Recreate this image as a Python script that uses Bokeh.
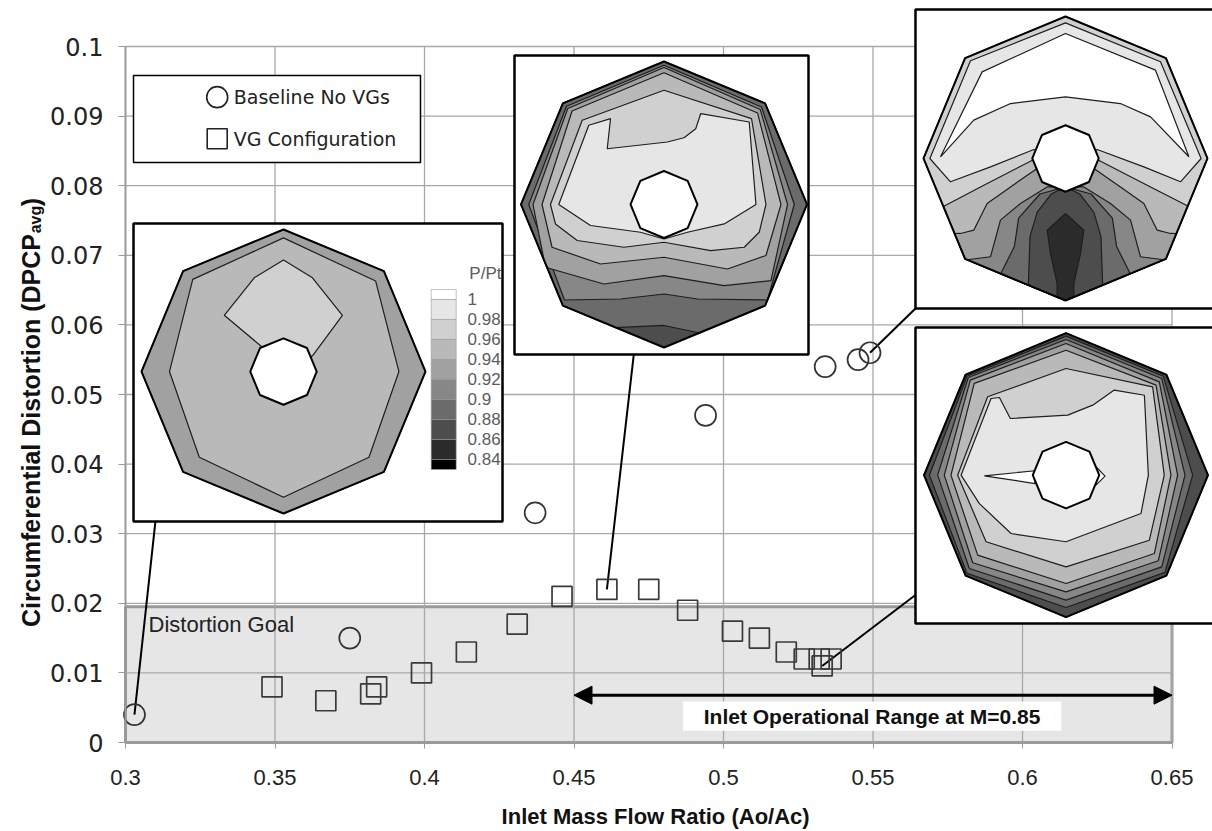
import math

from bokeh.core.properties import value
from bokeh.embed import file_html
from bokeh.models import (Arrow, ColumnDataSource, FixedTicker, NormalHead,
                          NumeralTickFormatter, Range1d)
from bokeh.plotting import figure
from bokeh.resources import INLINE

# ---------------------------------------------------------------- data
# Baseline inlet (no vortex generators)
BASE_X = [0.303, 0.375, 0.437, 0.494, 0.534, 0.545, 0.549]
BASE_Y = [0.004, 0.015, 0.033, 0.047, 0.054, 0.055, 0.056]

# Inlet with vortex generators
VG_X = [0.349, 0.367, 0.382, 0.384, 0.399, 0.414, 0.431, 0.446, 0.461, 0.475,
        0.488, 0.503, 0.512, 0.521, 0.527, 0.532, 0.536, 0.533]
VG_Y = [0.008, 0.006, 0.007, 0.008, 0.010, 0.013, 0.017, 0.021, 0.022, 0.022,
        0.019, 0.016, 0.015, 0.013, 0.012, 0.012, 0.012, 0.011]

X_TICKS = [0.3, 0.35, 0.4, 0.45, 0.5, 0.55, 0.6, 0.65]
Y_TICKS = [0.0, 0.01, 0.02, 0.03, 0.04, 0.05, 0.06, 0.07, 0.08, 0.09, 0.1]

GOAL_DPCP = 0.0195            # distortion goal band upper limit
OPER_RANGE = [0.45, 0.65]     # operational mass-flow range at M=0.85
OPER_LEVEL = 0.0068

# total-pressure recovery contour levels (colour bar)
PT_LABELS = ["1", "0.98", "0.96", "0.94", "0.92", "0.9", "0.88", "0.86", "0.84"]
BAND_GRAYS = ["#ffffff", "#e6e6e6", "#d0d0d0", "#b9b9b9", "#a1a1a1",
              "#878787", "#6b6b6b", "#4d4d4d", "#2b2b2b", "#000000"]

# ---------------------------------------------------------------- geometry
# The frame fills the whole page; the axes sit at fixed data locations.
W, H = 1212, 831
AXIS_LEFT_PX, AXIS_BOTTOM_PX = 125, 742     # page position of x=0.3 / y=0
PX_PER_X = 2990.0
PX_PER_Y = 6960.0
X_START, Y_START = 0.3, 0.0

x_range = Range1d(X_START - AXIS_LEFT_PX / PX_PER_X, X_START + (W - AXIS_LEFT_PX) / PX_PER_X)
y_range = Range1d(Y_START - (H - AXIS_BOTTOM_PX) / PX_PER_Y, Y_START + AXIS_BOTTOM_PX / PX_PER_Y)

p = figure(width=W, height=H, x_range=x_range, y_range=y_range,
           output_backend="svg", toolbar_location=None,
           min_border_left=0, min_border_bottom=0, min_border_top=0, min_border_right=0,
           background_fill_color="white", border_fill_color="white",
           outline_line_color=None)
p.xgrid.visible = False
p.ygrid.visible = False

AXIS_GRAY = "#9a9a9a"
fmt = NumeralTickFormatter(format="0.[00]")

xa = p.xaxis[0]
xa.fixed_location = Y_START
xa.ticker = FixedTicker(ticks=X_TICKS)
xa.formatter = fmt
xa.bounds = (X_TICKS[0], X_TICKS[-1])
xa.axis_line_color = AXIS_GRAY
xa.axis_line_width = 2
xa.major_tick_line_color = AXIS_GRAY
xa.major_tick_out = 6
xa.major_tick_in = 0
xa.minor_tick_line_color = None
xa.major_label_standoff = 21
xa.major_label_text_font = "Liberation Sans"
xa.major_label_text_font_size = "22px"
xa.major_label_text_color = "#222222"

ya = p.yaxis[0]
ya.fixed_location = X_START
ya.ticker = FixedTicker(ticks=Y_TICKS)
ya.formatter = fmt
ya.bounds = (Y_TICKS[0], Y_TICKS[-1])
ya.axis_line_color = AXIS_GRAY
ya.axis_line_width = 2
ya.major_tick_line_color = AXIS_GRAY
ya.major_tick_out = 7
ya.major_tick_in = 0
ya.minor_tick_line_color = None
ya.major_label_standoff = 15
ya.major_label_text_font = "DejaVu Sans"
ya.major_label_text_font_size = "24px"
ya.major_label_text_color = "#222222"

# ---------------------------------------------------------------- goal band + grid
p.quad(left=[X_TICKS[0]], right=[X_TICKS[-1]], bottom=[Y_TICKS[0]], top=[GOAL_DPCP],
       fill_color="#e6e6e6", line_color=AXIS_GRAY, line_width=3)

GRID = "#a8a8a8"
p.segment(x0=X_TICKS[1:], x1=X_TICKS[1:], y0=[Y_TICKS[0]] * (len(X_TICKS) - 1),
          y1=[Y_TICKS[-1]] * (len(X_TICKS) - 1), line_color=GRID, line_width=1.3)
p.segment(x0=[X_TICKS[0]] * (len(Y_TICKS) - 1), x1=[X_TICKS[-1]] * (len(Y_TICKS) - 1),
          y0=Y_TICKS[1:], y1=Y_TICKS[1:], line_color=GRID, line_width=1.3)

p.text(x=[0.3077], y=[0.0169], text=["Distortion Goal"], text_font=value("Liberation Sans"),
       text_font_size="22px", text_color="#222222", text_baseline="middle")

# ---------------------------------------------------------------- insets (probe-rake contour maps)
OCTAGON = [(math.cos(math.radians(90 + 45 * k)), math.sin(math.radians(90 + 45 * k)))
           for k in range(8)]
HUB_R = 0.234


def clip_to_octagon(poly):
    """Sutherland-Hodgman clip of a polygon against the unit octagon."""
    out = list(poly)
    for i in range(len(OCTAGON)):
        ax, ay = OCTAGON[i]
        bx, by = OCTAGON[(i + 1) % len(OCTAGON)]

        def side(pt):
            return (bx - ax) * (pt[1] - ay) - (by - ay) * (pt[0] - ax)

        src, out = out, []
        for j in range(len(src)):
            cur, prev = src[j], src[j - 1]
            sc, sp = side(cur), side(prev)
            if sc >= 0:
                if sp < 0:
                    t = sp / (sp - sc)
                    out.append((prev[0] + t * (cur[0] - prev[0]), prev[1] + t * (cur[1] - prev[1])))
                out.append(cur)
            elif sp >= 0:
                t = sp / (sp - sc)
                out.append((prev[0] + t * (cur[0] - prev[0]), prev[1] + t * (cur[1] - prev[1])))
        if not out:
            break
    return out


def below(line):
    return line + [(1.6, -1.6), (-1.6, -1.6)]


def above(line):
    return line + [(1.6, 1.6), (-1.6, 1.6)]


INSETS = [
    dict(  # baseline, low mass flow
        box=(0.30268, 0.42609, 0.03175, 0.07457), center=(0.35284, 0.05330), radius=142,
        layers=[
            (4, OCTAGON),
            (3, [(0, 0.941), (0.649, 0.637), (0.813, 0), (0.602, -0.604), (0, -0.885),
                 (-0.593, -0.604), (-0.803, 0), (-0.639, 0.649)]),
            (2, [(0, 0.785), (0.204, 0.660), (0.415, 0.396), (0.204, 0.110), (0, 0.040),
                 (-0.159, 0.180), (-0.417, 0.396), (-0.206, 0.660)]),
        ],
        extras=[]),
    dict(  # VG configuration, peak distortion
        box=(0.43010, 0.52843, 0.05575, 0.09871), center=(0.48010, 0.07730), radius=143,
        layers=[
            (7, OCTAGON),
            (6, above([(-1.5, -0.915), (-0.304, -0.860), (0, -0.846), (0.234, -0.895), (1.5, -1.16)])),
            (5, [(0, 0.974), (0.682, 0.682), (0.911, 0), (0.724, -0.668), (0.234, -0.661), (0, -0.626),
                 (-0.304, -0.661), (-0.696, -0.668), (-0.946, 0), (-0.682, 0.687)]),
            (4, [(0, 0.958), (0.673, 0.664), (0.864, 0), (0.748, -0.533), (0.421, -0.568), (0, -0.498),
                 (-0.421, -0.556), (-0.829, -0.439), (-0.916, 0), (-0.673, 0.671)]),
            (3, [(0, 0.921), (0.654, 0.640), (0.818, 0), (0.713, -0.357), (0.444, -0.451), (0, -0.369),
                 (-0.444, -0.416), (-0.783, -0.299), (-0.853, 0), (-0.643, 0.654)]),
            (2, [(0, 0.799), (0.612, 0.600), (0.713, 0), (0.666, -0.194), (0.561, -0.299),
                 (0.327, -0.322), (0, -0.264), (-0.280, -0.299), (-0.607, -0.252), (-0.759, -0.136),
                 (-0.794, 0), (-0.572, 0.589)]),
            (1, [(-0.736, 0), (-0.514, -0.147), (-0.164, -0.194), (0, -0.241), (0.164, -0.194),
                 (0.421, -0.136), (0.643, 0), (0.596, 0.577), (0.257, 0.636), (0.222, 0.530),
                 (0.140, 0.467), (0.023, 0.437), (-0.397, 0.390), (-0.374, 0.600), (-0.526, 0.554)]),
        ],
        extras=[]),
    dict(  # baseline, high mass flow
        box=(0.56421, 0.66455, 0.06236, 0.10532), center=(0.61438, 0.08391), radius=142,
        layers=[
            (2, OCTAGON),
            (1, [(0, 0.955), (0.669, 0.681), (0.955, 0), (0.810, -0.164), (0.552, -0.059),
                 (0.223, 0.063), (0, -0.059), (-0.223, 0.063), (-0.528, -0.059), (-0.810, -0.164),
                 (-0.955, 0), (-0.669, 0.688)]),
            (0, [(-0.880, 0.012), (-0.587, 0.610), (0, 0.880), (0.634, 0.622), (0.869, 0.012),
                 (0.599, 0.293), (0.387, 0.387), (0, 0.434), (-0.387, 0.387), (-0.646, 0.270)]),
            (3, below([(-1.5, -0.30), (-0.864, -0.340), (-0.575, -0.188), (-0.223, -0.007), (0, -0.106),
                       (0.223, -0.007), (0.575, -0.188), (0.871, -0.340), (1.5, -0.30)])),
            (4, below([(-1.5, -0.53), (-0.739, -0.528), (-0.646, -0.505), (-0.552, -0.317),
                       (-0.387, -0.2), (-0.2, -0.07), (0, -0.15), (0.2, -0.07), (0.387, -0.2),
                       (0.552, -0.317), (0.646, -0.505), (0.739, -0.528), (1.5, -0.53)])),
            (5, below([(-1.5, -0.72), (-0.716, -0.716), (-0.528, -0.692), (-0.458, -0.434),
                       (-0.317, -0.317), (-0.129, -0.2), (0, -0.2), (0.129, -0.2), (0.317, -0.317),
                       (0.458, -0.434), (0.528, -0.692), (0.716, -0.716), (1.5, -0.72)])),
            (6, [(-0.5, -1.5), (-0.45, -0.80), (-0.36, -0.62), (-0.33, -0.42), (-0.18, -0.25), (0, -0.2),
                 (0.18, -0.25), (0.33, -0.42), (0.36, -0.62), (0.45, -0.80), (0.5, -1.5)]),
            (7, [(-0.3, -1.5), (-0.26, -0.85), (-0.25, -0.55), (-0.2, -0.38), (-0.1, -0.25), (0, -0.2),
                 (0.1, -0.25), (0.2, -0.38), (0.25, -0.55), (0.26, -0.85), (0.3, -1.5)]),
            (8, [(-0.129, -0.505), (0, -0.387), (0.129, -0.505), (0.106, -0.669), (0.059, -0.880),
                 (0.059, -1.1), (-0.059, -1.1), (-0.059, -0.880), (-0.106, -0.669)]),
        ],
        extras=[]),
    dict(  # VG configuration, high mass flow
        box=(0.56421, 0.66455, 0.01710, 0.05963), center=(0.61455, 0.03841), radius=142,
        layers=[
            (7, OCTAGON),
            (6, [(0, 0.979), (0.685, 0.697), (0.892, 0), (0.697, -0.685), (0, -0.932),
                 (-0.697, -0.692), (-0.962, 0), (-0.697, 0.697)]),
            (5, [(0, 0.955), (0.674, 0.681), (0.838, 0), (0.674, -0.646), (0, -0.880),
                 (-0.681, -0.657), (-0.904, 0), (-0.688, 0.688)]),
            (4, [(0, 0.927), (0.657, 0.657), (0.786, 0), (0.650, -0.603), (0, -0.822),
                 (-0.657, -0.617), (-0.857, 0), (-0.674, 0.669)]),
            (3, [(0, 0.880), (0.634, 0.634), (0.739, 0), (0.622, -0.552), (0, -0.763),
                 (-0.622, -0.563), (-0.810, 0), (-0.646, 0.646)]),
            (2, [(0, 0.751), (0.610, 0.622), (0.692, 0), (0.587, -0.458), (0, -0.646),
                 (-0.563, -0.469), (-0.763, 0), (-0.552, 0.552)]),
            (1, [(-0.739, 0), (-0.528, 0.540), (-0.469, 0.547), (-0.392, 0.399), (0.012, 0.423),
                 (0.188, 0.493), (0.340, 0.599), (0.552, 0.563), (0.580, 0), (0.528, -0.270),
                 (0, -0.469), (-0.387, -0.411), (-0.610, -0.200)]),
        ],
        extras=[(0, [(-0.218, 0.031), (-0.575, -0.005), (-0.218, -0.059)]),
                (0, [(0.211, 0.059), (0.275, -0.007), (0.211, -0.070)])]),
]

# leader lines: data point -> inset frame
LEADERS = [
    ((BASE_X[0], BASE_Y[0]), (0.3100, 0.03175)),
    ((VG_X[8], VG_Y[8]), (0.4700, 0.05575)),
    ((BASE_X[6], BASE_Y[6]), (0.56421, 0.06236)),
    ((VG_X[17], VG_Y[17]), (0.56421, 0.0212)),
]
p.segment(x0=[a[0] for a, b in LEADERS], y0=[a[1] for a, b in LEADERS],
          x1=[b[0] for a, b in LEADERS], y1=[b[1] for a, b in LEADERS],
          line_color="black", line_width=2)

# data markers
p.scatter(BASE_X, BASE_Y, marker="circle", size=21, fill_color=None,
          line_color="#333333", line_width=1.7)
p.scatter(VG_X, VG_Y, marker="square", size=20, fill_color=None,
          line_color="#3a3a3a", line_width=1.7)


def to_data(center, radius, pts):
    cx, cy = center
    return ([cx + u * radius / PX_PER_X for u, v in pts],
            [cy + v * radius / PX_PER_Y for u, v in pts])


for inset in INSETS:
    bx0, bx1, by0, by1 = inset["box"]
    p.quad(left=[bx0], right=[bx1], bottom=[by0], top=[by1],
           fill_color="white", line_color="black", line_width=2.5)
    xs, ys, cols = [], [], []
    for band, pts in inset["layers"] + inset["extras"]:
        poly = clip_to_octagon(pts)
        if len(poly) < 3:
            continue
        x, y = to_data(inset["center"], inset["radius"], poly)
        xs.append(x)
        ys.append(y)
        cols.append(BAND_GRAYS[band])
    src = ColumnDataSource(dict(xs=xs, ys=ys, color=cols))
    p.patches("xs", "ys", source=src, fill_color="color", line_color="#1e1e1e", line_width=1.2)
    ox, oy = to_data(inset["center"], inset["radius"], OCTAGON)
    p.patch(ox, oy, fill_color=None, line_color="black", line_width=2)
    hx, hy = to_data(inset["center"], inset["radius"], [(u * HUB_R, v * HUB_R) for u, v in OCTAGON])
    p.patch(hx, hy, fill_color="white", line_color="black", line_width=2)

# colour bar of the first inset
CB_LEFT, CB_RIGHT, CB_TOP = 0.40224, 0.41060, 0.06509
half, full = 10 / PX_PER_Y, 20 / PX_PER_Y
edges = [CB_TOP, CB_TOP - half] + [CB_TOP - half - full * (k + 1) for k in range(8)] + \
        [CB_TOP - 2 * half - full * 8]
p.quad(left=[CB_LEFT] * 10, right=[CB_RIGHT] * 10, top=edges[:-1], bottom=edges[1:],
       fill_color=BAND_GRAYS, line_color="#9a9a9a", line_width=0.6)
p.text(x=[0.41440] * len(PT_LABELS), y=edges[1:-1], text=PT_LABELS,
       text_font=value("Liberation Sans"), text_font_size="17px", text_color="#5c5c5c",
       text_baseline="middle")
p.text(x=[0.41500], y=[0.06739], text=["P/Pt"], text_font=value("Liberation Sans"),
       text_font_size="17px", text_color="#5c5c5c", text_baseline="middle")

# ---------------------------------------------------------------- legend
p.quad(left=[0.30268], right=[0.39866], bottom=[0.08333], top=[0.09583],
       fill_color="white", line_color="black", line_width=1.5)
p.scatter([0.33067], [0.09272], marker="circle", size=21, fill_color=None,
          line_color="#222222", line_width=1.6)
p.scatter([0.33067], [0.08674], marker="square", size=20, fill_color=None,
          line_color="#222222", line_width=1.6)
p.text(x=[0.33622, 0.33622], y=[0.09272, 0.08674], text=["Baseline No VGs", "VG Configuration"],
       text_font=value("DejaVu Sans"), text_font_size="19px", text_color="#222222",
       text_baseline="middle")

# ---------------------------------------------------------------- operational range
p.add_layout(Arrow(start=NormalHead(size=18, fill_color="black", line_color="black"),
                   end=NormalHead(size=18, fill_color="black", line_color="black"),
                   x_start=OPER_RANGE[0], y_start=OPER_LEVEL,
                   x_end=OPER_RANGE[1], y_end=OPER_LEVEL,
                   line_color="black", line_width=3))
p.quad(left=[0.4865], right=[0.6130], bottom=[0.0017], top=[0.0059],
       fill_color="white", line_color=None)
p.text(x=[0.5497], y=[0.0038], text=["Inlet Operational Range at M=0.85"],
       text_font=value("Liberation Sans"), text_font_style="bold",
       text_font_size="21px", text_color="#111111", text_align="center", text_baseline="middle")

# ---------------------------------------------------------------- axis titles
TITLE_FONT = value("Liberation Sans")
p.text(x=[0.4773], y=[-0.0106], text=["Inlet Mass Flow Ratio (Ao/Ac)"],
       text_font=TITLE_FONT, text_font_style="bold", text_font_size="22px",
       text_color="#111111", text_align="center", text_baseline="middle")
# rotated y title with subscripted "avg"
p.text(x=[0.26823], y=[0.07306], text=["Circumferential Distortion (DPCP"],
       angle=math.pi / 2, text_font=TITLE_FONT, text_font_style="bold", text_font_size="25px",
       text_color="#111111", text_align="right", text_baseline="alphabetic")
p.text(x=[0.26990], y=[0.07316], text=["avg"], angle=math.pi / 2,
       text_font=TITLE_FONT, text_font_style="bold", text_font_size="16px",
       text_color="#111111", text_align="left", text_baseline="alphabetic")
p.text(x=[0.26823], y=[0.07703], text=[")"], angle=math.pi / 2,
       text_font=TITLE_FONT, text_font_style="bold", text_font_size="25px",
       text_color="#111111", text_align="left", text_baseline="alphabetic")

open("out.html", "w").write(file_html(p, INLINE))
